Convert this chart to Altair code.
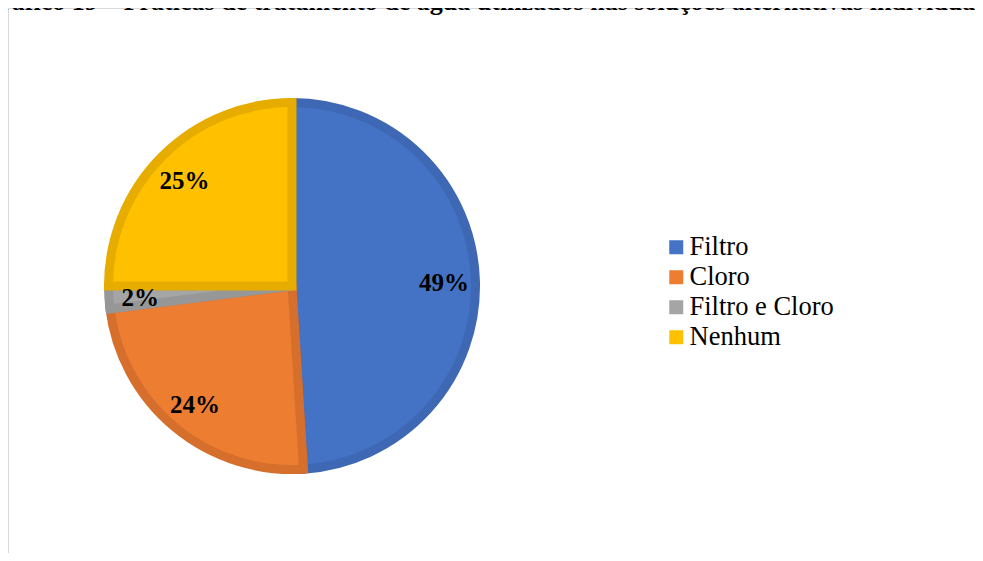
import altair as alt
import pandas as pd

categories = ["Filtro", "Cloro", "Filtro e Cloro", "Nenhum"]
values = [49, 24, 2, 25]
labels = ["49%", "24%", "2%", "25%"]
fills = ["#4472C4", "#ED7D31", "#A5A5A5", "#FFC000"]
strokes = ["#3E68B3", "#D66F2C", "#979797", "#E6AD00"]
title_text = "Gráfico 19 – Práticas de tratamento de água utilizados nas soluções alternativas individuais"

df = pd.DataFrame({"cat": categories, "value": values, "label": labels, "idx": list(range(len(categories)))})

W, H = 967, 545
CX, CY = 284, 278
SERIF = "Liberation Serif"

theta = alt.Theta("value:Q", stack=True)
order = alt.Order("idx:Q")

pie = alt.Chart(df).mark_arc(outerRadius=183.5, strokeWidth=9, strokeJoin="miter").encode(
    theta=theta,
    order=order,
    x=alt.value(CX),
    y=alt.value(CY),
    color=alt.Color(
        "cat:N",
        scale=alt.Scale(domain=categories, range=fills),
        sort=categories,
        legend=alt.Legend(
            title=None,
            orient="none",
            legendX=655,
            legendY=226,
            symbolType="square",
            symbolSize=196,
            symbolStrokeWidth=0,
            labelFont=SERIF,
            labelFontSize=26.5,
            labelColor="#000000",
            labelOffset=0,
            rowPadding=3,
            labelLimit=400,
        ),
    ),
    stroke=alt.Stroke("cat:N", scale=alt.Scale(domain=categories, range=strokes), legend=None),
)

text = alt.Chart(df).mark_text(
    radius=152, dy=2, font=SERIF, fontSize=25, fontWeight="bold", color="#000000"
).encode(
    theta=theta,
    order=order,
    x=alt.value(CX),
    y=alt.value(CY),
    text="label:N",
)

title = alt.Chart(pd.DataFrame({"t": [title_text]})).mark_text(
    align="left", baseline="alphabetic", font=SERIF, fontSize=26, fontWeight="bold", color="#000000"
).encode(x=alt.value(-28), y=alt.value(2), text="t:N")

frame_left = alt.Chart(pd.DataFrame({"a": [0]})).mark_rule(color="#D9D9D9", strokeWidth=1).encode(
    x=alt.value(0.5), y=alt.value(0), y2=alt.value(H + 20)
)
frame_top = alt.Chart(pd.DataFrame({"a": [0]})).mark_rule(color="#D9D9D9", strokeWidth=1).encode(
    x=alt.value(0), x2=alt.value(W + 20), y=alt.value(0.5)
)

chart = alt.layer(frame_left, frame_top, title, pie, text).properties(
    width=W, height=H, autosize=alt.AutoSizeParams(type="none"), padding=0
).configure_view(stroke=None).configure_legend(labelFont=SERIF)

chart.save("out.html", embed_options={"renderer": "svg", "actions": False})
